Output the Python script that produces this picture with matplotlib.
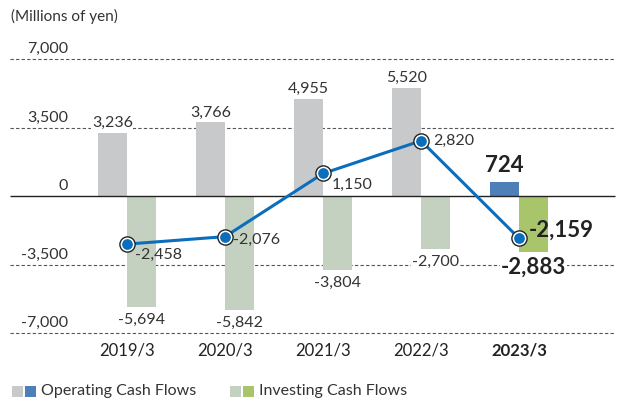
import matplotlib.pyplot as plt
from matplotlib.patches import Rectangle

plt.rcParams['font.family'] = ['Lato', 'DejaVu Sans']

years = ["2019/3", "2020/3", "2021/3", "2022/3", "2023/3"]
operating = [3236, 3766, 4955, 5520, 724]
investing = [-5694, -5842, -3804, -2700, -2883]
free_cf = [-2458, -2076, 1150, 2820, -2159]
yticks = [7000, 3500, 0, -3500, -7000]

gray = "#c8c9cb"
pale_green = "#c5d1c0"
blue_bar = "#4f7fb8"
green_bar = "#a8c56b"
line_blue = "#0a6ebd"
txt = "#333333"

fig = plt.figure(figsize=(6.22, 4.03), dpi=100)
ax = fig.add_axes([0, 0, 1, 1])
# pixel mapping: x = 127 + 98*i, y = 196 - v*137/7000
ax.set_xlim(-127 / 98, (622 - 127) / 98)
ax.set_ylim((196 - 403) * 7000 / 137, 196 * 7000 / 137)
ax.axis("off")

x0, x1 = (10 - 127) / 98, (615 - 127) / 98
for t in yticks:
    if t == 0:
        ax.hlines(0, x0, x1, color="#222222", lw=1.0, zorder=4)
    else:
        ax.hlines(t, x0, x1, color="#555555", lw=0.8, linestyles=(0, (3, 2)), zorder=1)
    ax.annotate(f"{t:,}", (-0.6, t), xytext=(0, 2), textcoords="offset points",
                ha="right", va="bottom", fontsize=11.5, color=txt,
                bbox=dict(facecolor="white", edgecolor="none", pad=0.5), zorder=2)

w = 0.3
n = len(years)
for i in range(n):
    last = i == n - 1
    ax.bar(i - w / 2, operating[i], w, color=blue_bar if last else gray, zorder=3)
    ax.bar(i + w / 2, investing[i], w, color=green_bar if last else pale_green, zorder=3)
    if last:
        ax.annotate(f"{operating[i]:,}", (i - w / 2, operating[i]), xytext=(0, 4),
                    textcoords="offset points", ha="center", va="bottom",
                    fontsize=16, fontweight="bold", color="#222222")
        ax.annotate(f"{investing[i]:,}", (i + w / 2, investing[i]), xytext=(0, -3),
                    textcoords="offset points", ha="center", va="top",
                    fontsize=16, fontweight="bold", color="#222222",
                    bbox=dict(facecolor="white", edgecolor="none", pad=0.5), zorder=2)
    else:
        ax.annotate(f"{operating[i]:,}", (i - w / 2, operating[i]), xytext=(0, 2),
                    textcoords="offset points", ha="center", va="bottom",
                    fontsize=11.5, color=txt,
                    bbox=dict(facecolor="white", edgecolor="none", pad=0.5), zorder=2)
        ax.annotate(f"{investing[i]:,}", (i + w / 2, investing[i]), xytext=(0, -4),
                    textcoords="offset points", ha="center", va="top",
                    fontsize=11.5, color=txt,
                    bbox=dict(facecolor="white", edgecolor="none", pad=0.5), zorder=2)

xs = list(range(n))
ax.plot(xs, free_cf, color=line_blue, lw=2.2, zorder=5)
ax.scatter(xs, free_cf, s=120, color="white", edgecolor="#222222", lw=1.0, zorder=6)
ax.scatter(xs, free_cf, s=45, color=line_blue, zorder=7)

offsets = [(6, -8), (6, -2), (6, -8), (9, 0), (7, 6)]
for i in range(n):
    last = i == n - 1
    ax.annotate(f"{free_cf[i]:,}", (i, free_cf[i]), xytext=offsets[i],
                textcoords="offset points", ha="left", va="center",
                fontsize=16 if last else 11.5, fontweight="bold" if last else "normal",
                color="#222222" if last else txt, zorder=8)

for i, y in enumerate(years):
    ax.text(i, (196 - 350) * 7000 / 137, y, ha="center", va="center", fontsize=12,
            color="#222222", fontweight="bold" if i == n - 1 else "normal")

fig.text(11 / 622, 1 - 16 / 403, "(Millions of yen)", ha="left", va="center",
         fontsize=11, color=txt)

# legend
ly = 1 - 397 / 403
lh = 11 / 403
lw_ = 11 / 622
for px, c in [(12, gray), (25, blue_bar), (230, pale_green), (243, green_bar)]:
    fig.patches.append(Rectangle((px / 622, ly), lw_, lh, transform=fig.transFigure,
                                 facecolor=c, edgecolor="none"))
fig.text(41 / 622, 1 - 391 / 403, "Operating Cash Flows", ha="left", va="center",
         fontsize=11.5, color=txt)
fig.text(259 / 622, 1 - 391 / 403, "Investing Cash Flows", ha="left", va="center",
         fontsize=11.5, color=txt)

fig.savefig("out.png", dpi=100)
